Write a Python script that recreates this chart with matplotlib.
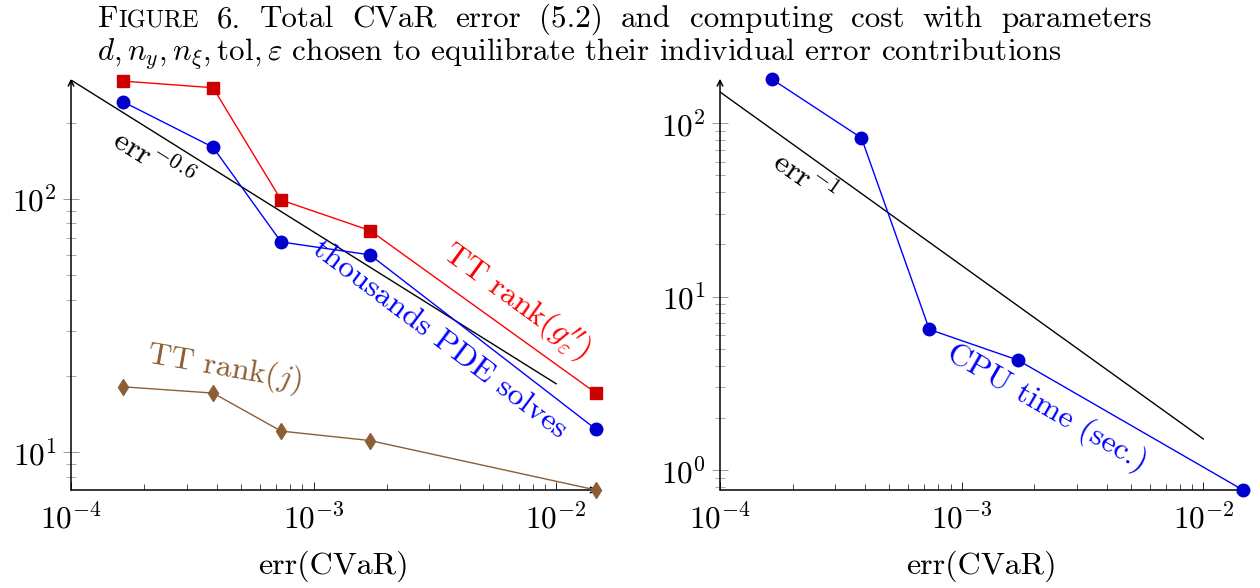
import numpy as np
import matplotlib
matplotlib.use('Agg')
from matplotlib import pyplot as plt
from matplotlib.ticker import LogLocator, NullFormatter
from matplotlib.transforms import IdentityTransform

plt.rcParams['font.family'] = 'serif'
plt.rcParams['font.serif'] = ['cmr10']
plt.rcParams['mathtext.fontset'] = 'cm'
plt.rcParams['axes.formatter.use_mathtext'] = True

# data
err = [1.64e-4, 3.85e-4, 7.35e-4, 1.71e-3, 1.46e-2]
rank_g = [292, 275, 99, 75, 17.1]
pde_solves = [242, 160, 67.6, 60.1, 12.3]
rank_j = [18.1, 17.1, 12.1, 11.1, 7.08]
cpu_time = [179, 82, 6.46, 4.3, 0.767]

ref_err = [1e-4, 1e-2]
ref_left = [295, 295 * 100 ** -0.6]     # err^-0.6
ref_right = [151, 1.51]                 # err^-1

red_l, red_m = '#ff0000', '#cc0000'
blue_l, blue_m = '#0000ff', '#0000cc'
brown = '#8c5e34'

fig = plt.figure(figsize=(12.6, 5.88), dpi=100)
ax1 = fig.add_axes([71 / 1260, 98 / 588, 525 / 1260, 410 / 588])
ax2 = fig.add_axes([720 / 1260, 98 / 588, 523 / 1260, 410 / 588])


def style(ax, ylim):
    ax.set_xscale('log')
    ax.set_yscale('log')
    ax.set_xlim(1e-4, 1.46e-2)
    ax.set_ylim(*ylim)
    for s in ax.spines.values():
        s.set_visible(False)
    ax.annotate('', xy=(1.003, 0), xytext=(0, 0), xycoords='axes fraction',
                arrowprops=dict(arrowstyle='->', lw=1.1, color='k',
                                shrinkA=0, shrinkB=0))
    ax.annotate('', xy=(0, 1.003), xytext=(0, 0), xycoords='axes fraction',
                arrowprops=dict(arrowstyle='->', lw=1.1, color='k',
                                shrinkA=0, shrinkB=0))
    ax.xaxis.set_minor_locator(LogLocator(base=10, subs=np.arange(2, 10)))
    ax.xaxis.set_minor_formatter(NullFormatter())
    ax.yaxis.set_minor_locator(LogLocator(base=10, subs=np.arange(2, 10)))
    ax.yaxis.set_minor_formatter(NullFormatter())
    ax.tick_params(axis='x', which='major', direction='in', length=6,
                   width=0.6, labelsize=22.5, pad=9)
    ax.tick_params(axis='x', which='minor', direction='in', length=4,
                   width=0.5)
    ax.tick_params(axis='y', which='major', direction='inout', length=11,
                   width=0.6, labelsize=22.5, pad=5, color='#888888')
    ax.tick_params(axis='y', which='minor', direction='inout', length=7,
                   width=0.5, color='#888888')
    ax.set_xlabel('err(CVaR)', fontsize=23, labelpad=12)


style(ax1, (7.08, 295))
style(ax2, (0.767, 177))

# left panel
ax1.plot(ref_err, ref_left, color='k', lw=1)
ax1.plot(err, rank_g, color=red_l, lw=1, marker='s', ms=9, mfc=red_m,
         mec=red_m, clip_on=False, zorder=4)
ax1.plot(err, pde_solves, color=blue_l, lw=1, marker='o', ms=9, mfc=blue_m,
         mec=blue_m, clip_on=False, zorder=4)
ax1.plot(err, rank_j, color=brown, lw=1, marker='d', ms=8, mfc=brown,
         mec=brown, clip_on=False, zorder=4)

ax1.text(2.16e-4, 143, r'$\mathrm{err}^{-0.6}$', fontsize=23, rotation=-32,
         ha='center', va='center')
ax1.text(6.8e-3, 39, r'TT rank$(g^{\prime\prime}_{\varepsilon})$',
         fontsize=23, color=red_l, rotation=-36, ha='center', va='center')
ax1.text(3.3e-3, 28, 'thousands PDE solves', fontsize=23, color=blue_l,
         rotation=-37, ha='center', va='center')
ax1.text(4.3e-4, 21.5, r'TT rank$(j)$', fontsize=23, color=brown,
         rotation=-10, ha='center', va='center')

# right panel
ax2.plot(ref_err, ref_right, color='k', lw=1)
ax2.plot(err, cpu_time, color=blue_l, lw=1, marker='o', ms=9, mfc=blue_m,
         mec=blue_m, clip_on=False, zorder=4)
ax2.text(2.24e-4, 48, r'$\mathrm{err}^{-1}$', fontsize=23, rotation=-35,
         ha='center', va='center')
ax2.text(2.25e-3, 2.28, 'CPU time (sec.)', fontsize=23, color=blue_l,
         rotation=-30, ha='center', va='center')

# caption, first line justified between x=98 and x=1152 px
px = IdentityTransform()
cap_size = 22.4
base1, base2 = 588 - 27, 588 - 61
words = ['6.', 'Total', 'CVaR', 'error', '(5.2)', 'and', 'computing',
         'cost', 'with', 'parameters']
t_f = fig.text(0, base1, 'F', fontsize=cap_size, va='baseline',
               transform=px)
t_igure = fig.text(0, base1, 'IGURE', fontsize=cap_size * 0.78,
                   va='baseline', transform=px)
t_words = [fig.text(0, base1, w, fontsize=cap_size, va='baseline',
                    transform=px) for w in words]
fig.canvas.draw()
r = fig.canvas.get_renderer()
w_f = t_f.get_window_extent(r).width
w_ig = t_igure.get_window_extent(r).width
w_words = [t.get_window_extent(r).width for t in t_words]
gap = (1152 - 98 - w_f - w_ig - sum(w_words)) / len(words)
t_f.set_x(98)
t_igure.set_x(98 + w_f)
x = 98 + w_f + w_ig + gap
for t, w in zip(t_words, w_words):
    t.set_x(x)
    x += w + gap

fig.text(97, base2,
         r'$d, n_y, n_\xi, \mathrm{tol}, \varepsilon$ chosen to equilibrate '
         'their individual error contributions',
         fontsize=cap_size, va='baseline', ha='left', transform=px)

fig.savefig('out.png', dpi=100)
